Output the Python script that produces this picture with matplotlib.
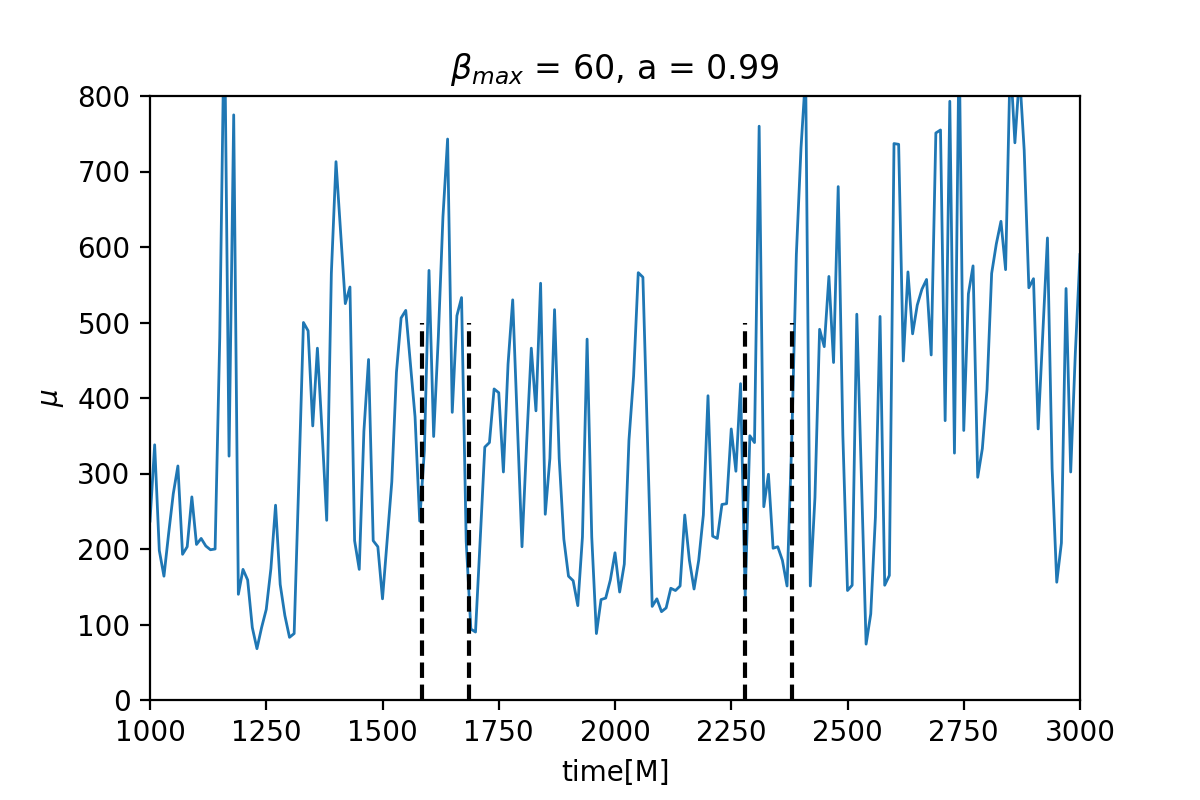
import numpy as np
import matplotlib
matplotlib.use("Agg")
import matplotlib.pyplot as plt

# time axis (dumps every 10 M)
time = np.arange(1000, 3001, 10)

mu = [
    237, 338, 198, 164, 220, 273, 310, 193, 203, 269,
    206, 214, 204, 199, 200, 480, 920, 323, 775, 140,
    173, 159, 96, 68, 96, 120, 174, 258, 153, 112,
    83, 88, 290, 500, 489, 363, 466, 356, 238, 565,
    713, 619, 525, 547, 211, 173, 356, 451, 211, 203,
    134, 211, 289, 434, 506, 516, 445, 375, 237, 330,
    569, 349, 480, 640, 743, 381, 509, 533, 210, 94,
    90, 211, 335, 341, 412, 407, 302, 445, 530, 367,
    203, 341, 466, 383, 552, 246, 320, 517, 320, 213,
    164, 158, 125, 216, 478, 216, 88, 133, 135, 159,
    195, 143, 180, 344, 429, 566, 560, 341, 124, 134,
    117, 122, 148, 145, 151, 245, 185, 147, 185, 245,
    403, 217, 214, 259, 260, 359, 303, 419, 138, 350,
    341, 760, 256, 299, 201, 203, 185, 151, 341, 590,
    731, 830, 151, 268, 491, 468, 561, 447, 680, 351,
    145, 152, 511, 294, 74, 114, 242, 508, 152, 165,
    737, 736, 449, 567, 485, 523, 544, 557, 457, 751,
    755, 370, 793, 327, 880, 357, 538, 575, 295, 333,
    411, 565, 604, 634, 570, 850, 738, 830, 728, 546,
    558, 359, 486, 612, 307, 156, 208, 545, 302, 460,
    590,
]

# flare windows
t_marks = [1585, 1685, 2280, 2380]
mark_height = 500

fig, ax = plt.subplots(figsize=(6, 4), dpi=200)
fig.subplots_adjust(left=0.125, right=0.9, bottom=0.125, top=0.88)

ax.plot(time, mu, lw=1)
for t in t_marks:
    ax.plot([t, t], [0, mark_height], 'k--', lw=1.5)

ax.set_xlim(1000, 3000)
ax.set_ylim(0, 800)
ax.set_xlabel("time[M]")
ax.set_ylabel(r"$\mu$")
ax.set_title(r"$\beta_{max}$ = 60, a = 0.99")

fig.savefig("out.png")
